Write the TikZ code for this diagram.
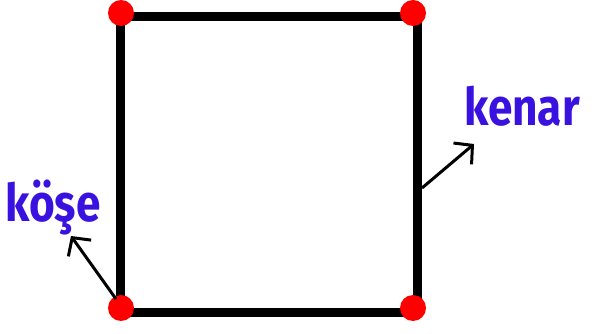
\documentclass[tikz,border=0pt]{standalone}
\usepackage{fontspec}
\setmainfont{Fira Sans}
\usetikzlibrary{arrows.meta}
\definecolor{lblblue}{RGB}{58,18,224}
\definecolor{dotred}{RGB}{255,0,0}
\tikzset{
  dotnode/.style={circle,fill=dotred,inner sep=0pt,minimum size=26pt},
  edgeline/.style={line width=9pt,black},
  pointer/.style={line width=3pt,black,-{Straight Barb[length=13pt,width=28pt,line width=3pt]}},
  lbl/.style={text=lblblue,font=\bfseries\fontsize{52}{52}\selectfont,inner sep=0pt}
}
\begin{document}
\begin{tikzpicture}[x=1pt,y=-1pt]
\useasboundingbox (0,0) rectangle (592,334);
% square corners of edges
\coordinate (c1) at (120,17);
\coordinate (c2) at (417,17);
\coordinate (c3) at (417,312);
\coordinate (c4) at (120,312);
\draw[edgeline] (c1) -- (c2) -- (c3) -- (c4) -- cycle;
\node[dotnode] (tl) at (121,13) {};
\node[dotnode] (tr) at (413,13) {};
\node[dotnode] (bl) at (121,308) {};
\node[dotnode] (br) at (413,308) {};
% labels
\node[lbl,anchor=base west,xscale=0.85] (kenar) at (464,126) {kenar};
\node[lbl,anchor=base west,xscale=0.85] (kose) at (5,221) {köşe};
% pointers
\coordinate (kt) at (422,188);
\coordinate (kh) at (474,144);
\draw[pointer] (kt) -- (kh);
\coordinate (ot) at (116,299);
\coordinate (oh) at (71,236);
\draw[pointer] (ot) -- (oh);
\end{tikzpicture}
\end{document}
